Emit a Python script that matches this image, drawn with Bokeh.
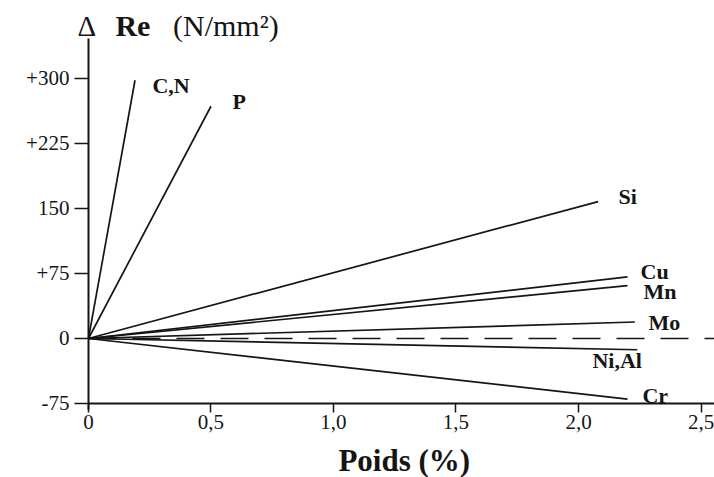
from bokeh.plotting import figure
from bokeh.models import Range1d, FixedTicker, Label
from bokeh.embed import file_html
from bokeh.resources import INLINE

# ---- data ----
elements = ["C,N", "P", "Si", "Cu", "Mn", "Mo", "Ni,Al", "Cr"]
end_weight = [0.19, 0.50, 2.08, 2.20, 2.20, 2.23, 2.24, 2.20]      # Poids (%)
end_delta_re = [298, 268, 158, 71, 61, 19, -13, -70]              # Δ Re (N/mm²)
reference_x = [0.0, 2.56]
reference_y = [0.0, 0.0]

x_ticks = [0, 0.5, 1.0, 1.5, 2.0, 2.5]
x_tick_labels = ["0", "0,5", "1,0", "1,5", "2,0", "2,5"]
y_ticks = [-75, 0, 75, 150, 225, 300]
y_tick_labels = ["-75", "0", "+75", "150", "+225", "+300"]

# label anchor positions (layout)
label_x = [0.261, 0.588, 2.163, 2.253, 2.265, 2.286, 2.057, 2.261]
label_y = [292, 274, 164, 77, 54, 19, -25, -66]

SERIF = "Liberation Serif"
INK = "#151515"

p = figure(width=714, height=477, output_backend="svg", toolbar_location=None,
           x_range=Range1d(-0.359, 2.555), y_range=Range1d(-160.4, 390.0),
           min_border=0)
p.outline_line_color = None
p.xgrid.visible = False
p.ygrid.visible = False
p.background_fill_color = "white"
p.border_fill_color = "white"

for ax, ticks, labels in ((p.xaxis[0], x_ticks, x_tick_labels),
                          (p.yaxis[0], y_ticks, y_tick_labels)):
    ax.ticker = FixedTicker(ticks=ticks)
    ax.major_label_overrides = {t: l for t, l in zip(ticks, labels)}
    ax.minor_tick_line_color = None
    ax.major_tick_in = 0
    ax.axis_line_color = INK
    ax.axis_line_width = 2
    ax.major_tick_line_color = INK
    ax.major_tick_line_width = 1.5
    ax.major_label_text_font = SERIF
    ax.major_label_text_font_size = "21px"
    ax.major_label_text_color = INK

p.xaxis[0].fixed_location = -75
p.xaxis[0].bounds = (0, 2.555)
p.xaxis[0].major_tick_out = 9
p.xaxis[0].major_label_standoff = 3
p.yaxis[0].fixed_location = 0
p.yaxis[0].bounds = (-82, 346)
p.yaxis[0].major_tick_out = 14
p.yaxis[0].major_label_standoff = 5

# zero reference (dashed)
p.line(reference_x, reference_y, line_color=INK, line_width=1.5, line_dash="28 16")

# element lines from the origin
for xe, ye in zip(end_weight, end_delta_re):
    p.line([0, xe], [0, ye], line_color=INK, line_width=1.7)

for name, lx, ly in zip(elements, label_x, label_y):
    p.add_layout(Label(x=lx, y=ly, text=name, text_font=SERIF,
                       text_font_size="22px", text_font_style="bold",
                       text_color=INK, text_align="left", text_baseline="middle"))

# axis titles
p.add_layout(Label(x=-0.045, y=361, text="Δ", text_font=SERIF, text_font_size="29px",
                   text_color=INK, text_align="left", text_baseline="middle"))
p.add_layout(Label(x=0.110, y=361, text="Re", text_font=SERIF, text_font_size="30px",
                   text_font_style="bold", text_color=INK, text_align="left",
                   text_baseline="middle"))
p.add_layout(Label(x=0.345, y=361, text="(N/mm²)", text_font=SERIF, text_font_size="30px",
                   text_color=INK, text_align="left", text_baseline="middle"))
p.add_layout(Label(x=1.02, y=-140.8, text="Poids (%)", text_font=SERIF,
                   text_font_size="31px", text_font_style="bold", text_color=INK,
                   text_align="left", text_baseline="middle"))

open("out.html", "w").write(file_html(p, INLINE))
